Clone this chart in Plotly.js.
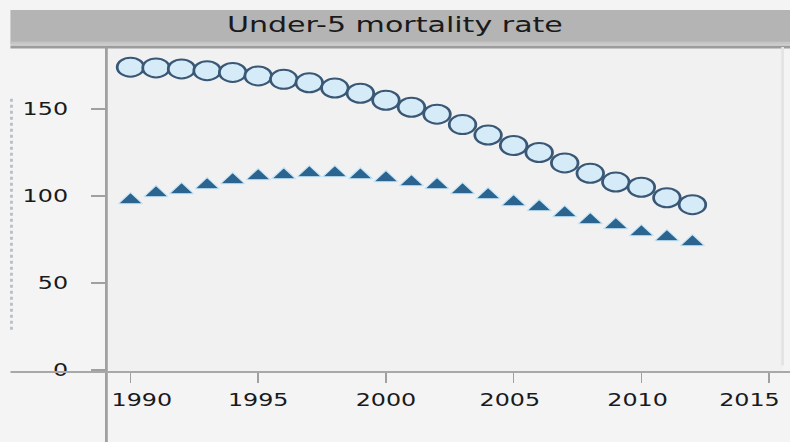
<!DOCTYPE html>
<html>
<head>
<meta charset="utf-8">
<script src="https://cdn.plot.ly/plotly-3.0.1.min.js"></script>
<style>
html,body{margin:0;padding:0;background:#f4f4f4;overflow:hidden;width:790px;height:442px;}
#chart{width:565px;height:442px;transform:scaleX(1.4);transform-origin:0 0;}
</style>
</head>
<body>
<div id="chart"></div>
<script>
const years = [1990,1991,1992,1993,1994,1995,1996,1997,1998,1999,2000,2001,2002,2003,2004,2005,2006,2007,2008,2009,2010,2011,2012];
const seriesCircle = [174,173.6,173,172,171,169,167,165,162,159,155,151,147,141,135,129,125,119,113,108,105,99,95];
const seriesTriangle = [97.7,101.7,103.4,106.3,109.2,111.5,112,113.2,113.2,112,110.3,108,106.3,103.4,100.6,96.6,93.7,90.2,86.2,83.3,79.3,76.4,73.6];
const xTicks = [1990,1995,2000,2005,2010,2015];
const xTickText = ['\u00a0\u00a0\u00a01990', '1995', '2000', '2005\u00a0', '2010\u00a0', ''];
const xTicksEdge = [2015];
const xTickTextEdge = ['2015'];
const yTicks = [0,50,100,150];
const chartTitle = 'Under-5 mortality rate';
const xRange = [1989.057, 2015.53];

const traces = [
  {x: years, y: seriesCircle, type: 'scatter', mode: 'markers',
   marker: {symbol: 'circle', size: 19, color: '#d5ebf8', line: {color: '#3a5876', width: 2}}},
  {x: years, y: seriesTriangle, type: 'scatter', mode: 'markers',
   marker: {symbol: 'triangle-up', size: 15, color: '#2c6490', line: {color: '#c3e5f8', width: 1}}},
  {x: [], y: [], xaxis: 'x2', type: 'scatter', mode: 'markers', hoverinfo: 'skip'}
];

const tf = {size: 17, family: 'DejaVu Sans', color: '#1a1a1a'};

const layout = {
  width: 565, height: 442,
  margin: {l: 76, r: 6, t: 47, b: 70},
  paper_bgcolor: '#f4f4f4',
  plot_bgcolor: '#f1f1f1',
  showlegend: false,
  font: {family: 'DejaVu Sans', color: '#1a1a1a'},
  xaxis: {range: xRange, tickvals: xTicks, ticktext: xTickText,
          showgrid: false, zeroline: false, showline: false,
          ticks: 'outside', ticklen: 10, tickcolor: '#a0a0a0', tickwidth: 1.2,
          tickfont: tf, ticklabelstandoff: 3},
  xaxis2: {range: xRange, overlaying: 'x', anchor: 'y', side: 'bottom', tickvals: xTicksEdge, ticktext: xTickTextEdge,
          showgrid: false, zeroline: false, showline: false,
          ticks: 'outside', ticklen: 10, tickcolor: 'rgba(0,0,0,0)', tickwidth: 1,
          tickfont: tf, ticklabelstandoff: 3, ticklabelshift: -14},
  yaxis: {range: [-1.15, 185.6], tickvals: yTicks, ticktext: yTicks.map(String),
          showgrid: false, zeroline: false, showline: false,
          ticks: 'outside', ticklen: 10, tickcolor: '#a0a0a0', tickwidth: 1.2,
          tickfont: tf, ticklabelstandoff: 13},
  shapes: [
    {type: 'rect', xref: 'paper', yref: 'paper', x0: -0.1419, x1: 1.0118, y0: 1.0077, y1: 1.1138,
     fillcolor: '#b4b4b4', line: {width: 0}, layer: 'below'},
    {type: 'rect', xref: 'paper', yref: 'paper', x0: -0.1419, x1: 1.0118, y0: 1.0077, y1: 1.016,
     fillcolor: '#c6c6c6', line: {width: 0}, layer: 'below'},
    {type: 'line', xref: 'paper', yref: 'paper', x0: -0.1419, x1: 1.0118, y0: 1.0, y1: 1.0,
     line: {color: '#9c9c9c', width: 3}},
    {type: 'line', xref: 'paper', yref: 'paper', x0: 0, x1: 0, y0: -0.2154, y1: 1.0,
     line: {color: '#a0a0a0', width: 2}},
    {type: 'line', xref: 'paper', yref: 'paper', x0: -0.1419, x1: 1.0118, y0: 0, y1: 0,
     line: {color: '#a8a8a8', width: 2}},
    {type: 'line', xref: 'paper', yref: 'paper', x0: 1.0, x1: 1.0, y0: 0.02, y1: 1.0,
     line: {color: '#e4e4e4', width: 2}},
    {type: 'line', xref: 'paper', yref: 'paper', x0: -0.1404, x1: -0.1404, y0: 0.13, y1: 0.85,
     line: {color: '#b9bfc4', width: 2, dash: 'dot'}}
  ],
  annotations: [
    {text: chartTitle, xref: 'paper', yref: 'paper', x: 0.4258, y: 1.068, xanchor: 'center', yanchor: 'middle',
     showarrow: false, font: {size: 21.5, family: 'DejaVu Sans', color: '#1a1a1a'}}
  ]
};

Plotly.newPlot('chart', traces, layout, {displayModeBar: false, staticPlot: true});
</script>
</body>
</html>
